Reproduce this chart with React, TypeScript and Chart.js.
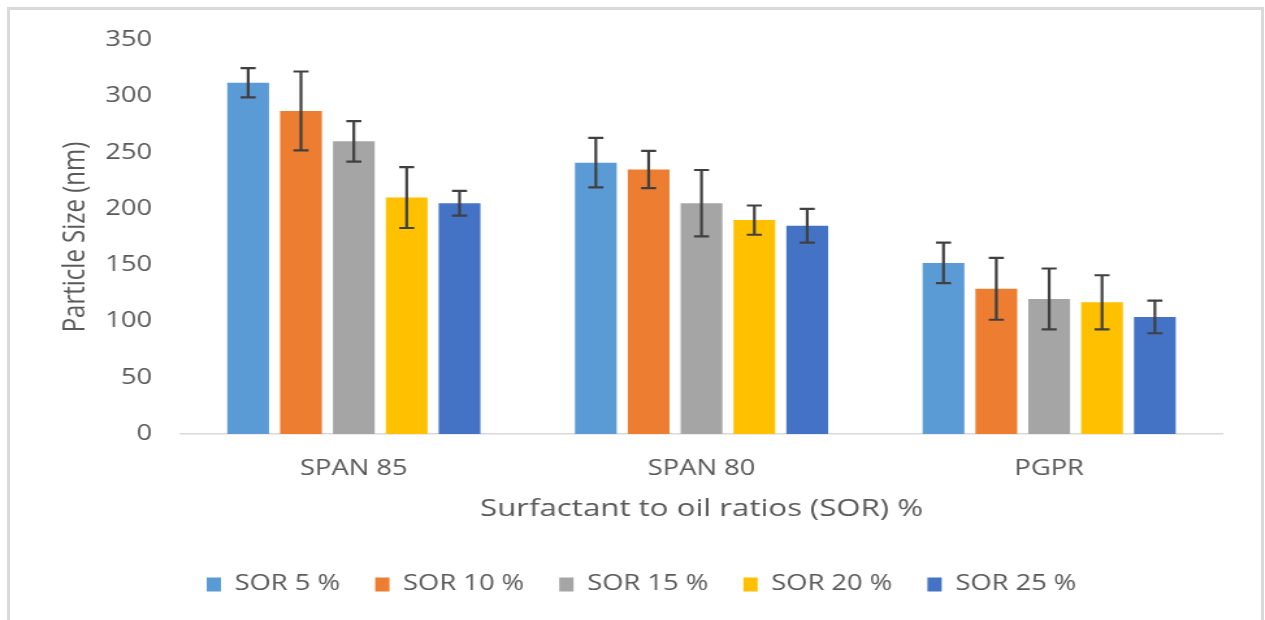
import React, { useEffect, useRef } from "react";
import { Chart, registerables } from "chart.js";

Chart.register(...registerables);

const categories = ["SPAN 85", "SPAN 80", "PGPR"];
const seriesLabels = ["SOR 5 %", "SOR 10 %", "SOR 15 %", "SOR 20 %", "SOR 25 %"];
const sor5 = [312, 241, 152];
const sor10 = [287, 235, 129];
const sor15 = [260, 205, 120];
const sor20 = [210, 190, 117];
const sor25 = [205, 185, 104];
const err5 = [13, 22, 18];
const err10 = [35, 16.5, 27.5];
const err15 = [18, 29.5, 27];
const err20 = [27, 13, 24];
const err25 = [11, 15, 14.5];
const yTicks = [0, 50, 100, 150, 200, 250, 300, 350];

const colors = ["#5B9BD5", "#ED7D31", "#A5A5A5", "#FFC000", "#4472C4"];
const values = [sor5, sor10, sor15, sor20, sor25];
const errors = [err5, err10, err15, err20, err25];

const S = 1.3; // horizontal stretch of the reference picture
const W = Math.round(1265 / S);
const H = 620;
const FONT = "'Open Sans', 'Noto Sans', sans-serif";
const TXT = "#595959";

const errorBarPlugin = {
  id: "errorBars",
  afterDatasetsDraw(chart: any) {
    const ctx = chart.ctx;
    const yScale = chart.scales.y;
    ctx.save();
    ctx.strokeStyle = "#404040";
    ctx.lineWidth = 2.2;
    chart.data.datasets.forEach((ds: any, i: number) => {
      const meta = chart.getDatasetMeta(i);
      meta.data.forEach((bar: any, j: number) => {
        const v = ds.data[j];
        const e = ds.errors[j];
        const x = bar.x;
        const yt = yScale.getPixelForValue(v + e);
        const yb = yScale.getPixelForValue(v - e);
        const cap = 5.8;
        ctx.beginPath();
        ctx.moveTo(x, yt);
        ctx.lineTo(x, yb);
        ctx.moveTo(x - cap, yt);
        ctx.lineTo(x + cap, yt);
        ctx.moveTo(x - cap, yb);
        ctx.lineTo(x + cap, yb);
        ctx.stroke();
      });
    });
    ctx.restore();
  },
};

export default function App() {
  const ref = useRef<HTMLCanvasElement | null>(null);
  useEffect(() => {
    if (!ref.current) return;
    const chart = new Chart(ref.current, {
      type: "bar",
      data: {
        labels: categories,
        datasets: seriesLabels.map((label, i) => ({
          label,
          data: values[i],
          errors: errors[i],
          backgroundColor: colors[i],
          borderWidth: 0,
          categoryPercentage: 0.76,
          barPercentage: 0.79,
        })) as any,
      },
      options: {
        responsive: false,
        animation: false,
        layout: { padding: { left: 14, top: 40, right: 0, bottom: 15 } },
        plugins: {
          tooltip: { enabled: false },
          legend: {
            position: "bottom",
            labels: {
              boxWidth: 11,
              boxHeight: 14,
              padding: 27,
              color: TXT,
              font: { family: FONT, size: 21 },
            },
          },
        },
        scales: {
          x: {
            grid: { display: false, drawTicks: false, tickLength: 0 },
            border: { display: true, color: "#D9D9D9", width: 1.5 },
            ticks: { color: TXT, font: { family: FONT, size: 21 }, padding: 22 },
            title: {
              display: true,
              text: "Surfactant to oil ratios (SOR) %",
              color: TXT,
              font: { family: FONT, size: 24 },
              padding: { top: 0, bottom: 23.6 },
            },
            afterFit: (s: any) => {
              s.height = 113;
            },
          },
          y: {
            min: 0,
            max: 350,
            afterBuildTicks: (s: any) => {
              s.ticks = yTicks.map((v) => ({ value: v }));
            },
            grid: { display: false, drawTicks: false, tickLength: 0 },
            border: { display: false },
            ticks: { color: TXT, font: { family: FONT, size: 21 }, padding: 21.5 },
            title: {
              display: true,
              text: "Particle Size (nm)",
              color: TXT,
              font: { family: FONT, size: 24 },
              padding: { top: 29.3, bottom: 0 },
            },
            afterFit: (s: any) => {
              s.width = 180 / S - 14;
            },
          },
          y2: {
            position: "right",
            grid: { display: false, drawTicks: false },
            border: { display: false },
            ticks: { display: false },
            afterFit: (s: any) => {
              s.width = W - 1223 / S;
            },
          },
        },
      } as any,
      plugins: [errorBarPlugin],
    });
    return () => chart.destroy();
  }, []);

  return (
    <div
      style={{
        position: "fixed",
        left: 0,
        top: 0,
        width: 1265,
        height: 620,
        overflow: "hidden",
        background: "#fff",
      }}
    >
      <div
        style={{
          position: "absolute",
          left: 7,
          top: 7,
          width: 1257,
          height: 613,
          boxSizing: "border-box",
          borderLeft: "3px solid #D9D9D9",
          borderTop: "3px solid #D9D9D9",
          borderRight: "3px solid #D9D9D9",
        }}
      />
      <div
        style={{
          position: "absolute",
          left: 0,
          top: 0,
          width: W,
          height: H,
          transform: `scaleX(${S})`,
          transformOrigin: "0 0",
        }}
      >
        <canvas ref={ref} width={W} height={H} />
      </div>
    </div>
  );
}
